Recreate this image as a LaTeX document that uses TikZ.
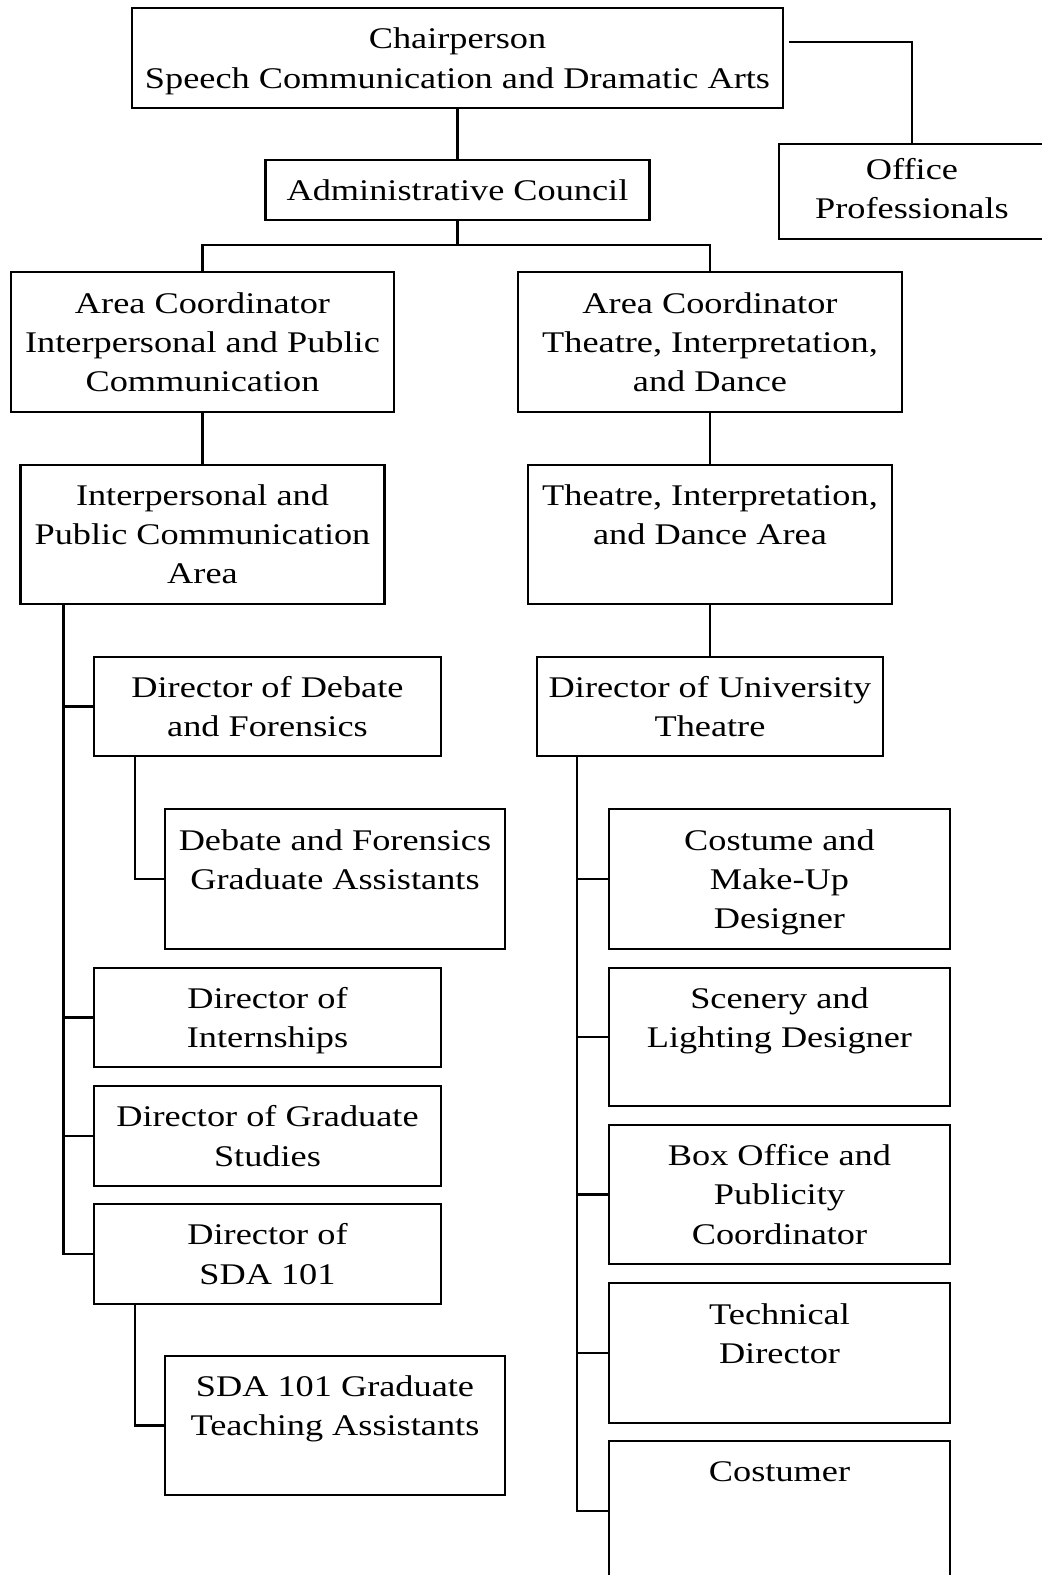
\documentclass[tikz,border=0pt]{standalone}
\usepackage{fontspec}
\setmainfont{Liberation Serif}[FakeStretch=1.21]

\newcommand{\nodp}[2][0pt]{\raisebox{0pt}[\height][#1]{#2}}

\tikzset{
  orgbox/.style={draw, align=center, inner sep=0pt,
    font=\fontsize{22.5}{29.4}\selectfont},
  wh/.style 2 args={minimum width=#1*0.75pt, minimum height=#2*0.75pt}
}

\begin{document}
\begin{tikzpicture}[x=0.75pt, y=-0.75pt, line width=1.6pt]

  \useasboundingbox (0,0) rectangle (1042,1575);

  \node[orgbox, wh={651}{100}] (chair) at (457.5,58)
    {Chairperson\\\nodp{Speech Communication and Dramatic Arts}};

  \node[orgbox, wh={266}{95}] (office) at (912,191.5)
    {Office\\\nodp[4.5pt]{Professionals}};

  \node[orgbox, wh={384}{60}] (council) at (457.5,190)
    {Administrative Council};

  \node[orgbox, wh={383}{140}] (acIPC) at (202.5,342)
    {Area Coordinator\\Interpersonal and Public\\Communication};

  \node[orgbox, wh={384}{140}] (acTID) at (710,342)
    {Area Coordinator\\Theatre, Interpretation,\\and Dance};

  \node[orgbox, wh={364}{139}] (areaIPC) at (202.5,534.5)
    {Interpersonal and\\Public Communication\\Area};

  \node[orgbox, wh={364}{139}] (areaTID) at (710,534.5)
    {Theatre, Interpretation,\\and Dance Area\\\mbox{}};

  \node[orgbox, wh={347}{99}] (dirDebate) at (267.5,706.5)
    {Director of Debate\\and Forensics};

  \node[orgbox, wh={340}{140}] (debateGA) at (335,879)
    {Debate and Forensics\\Graduate Assistants\\\mbox{}};

  \node[orgbox, wh={347}{99}] (dirIntern) at (267.5,1017.5)
    {Director of\\\nodp{Internships}};

  \node[orgbox, wh={347}{100}] (dirGrad) at (267.5,1136)
    {Director of Graduate\\Studies};

  \node[orgbox, wh={347}{100}] (dirSDA) at (267.5,1254)
    {Director of\\SDA 101};

  \node[orgbox, wh={340}{139}] (sdaGA) at (335,1425.5)
    {SDA 101 Graduate\\Teaching Assistants\\\mbox{}};

  \node[orgbox, wh={346}{99}] (dirTheatre) at (710,706.5)
    {Director of University\\Theatre};

  \node[orgbox, wh={341}{140}] (costume) at (779.5,879)
    {Costume and\\Make-Up\\\nodp{Designer}};

  \node[orgbox, wh={341}{138}] (scenery) at (779.5,1037)
    {Scenery and\\Lighting Designer\\\mbox{}};

  \node[orgbox, wh={341}{139}] (boxoffice) at (779.5,1194.5)
    {Box Office and\\Publicity\\Coordinator};

  \node[orgbox, wh={341}{140}] (techdir) at (779.5,1353)
    {Technical\\Director\\\mbox{}};

  \node[orgbox, wh={341}{140}] (costumer) at (779.5,1511)
    {Costumer\\\mbox{}\\\mbox{}};

  \draw ([shift={(5,-16)}]chair.east) -| (office.north);
  \draw (chair) -- (council);
  \draw (council.south) -- ++(0,24) -| (acIPC.north);
  \draw (council.south) ++(0,24) -| (acTID.north);
  \draw (acIPC) -- (areaIPC);
  \draw (acTID) -- (areaTID);
  \draw (areaTID) -- (dirTheatre);

  \coordinate (ltrunk) at ([shift={(44,0)}]areaIPC.south west);
  \draw (ltrunk) |- (dirSDA.west);
  \foreach \n in {dirDebate,dirIntern,dirGrad}
    \draw (ltrunk |- \n.west) -- (\n.west);
  \draw ([shift={(42,0)}]dirDebate.south west) |- (debateGA.west);
  \draw ([shift={(42,0)}]dirSDA.south west) |- (sdaGA.west);

  \coordinate (rtrunk) at ([shift={(41,0)}]dirTheatre.south west);
  \draw (rtrunk) |- (costumer.west);
  \foreach \n in {costume,scenery,boxoffice,techdir}
    \draw (rtrunk |- \n.west) -- (\n.west);

\end{tikzpicture}
\end{document}
